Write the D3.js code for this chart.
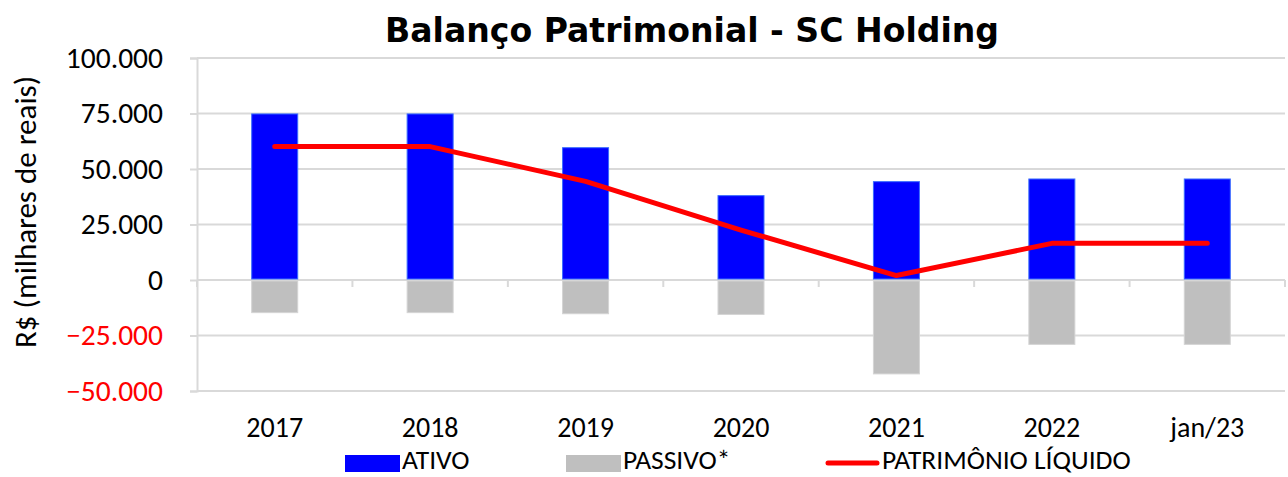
<!DOCTYPE html>
<html><head><meta charset="utf-8">
<script src="https://cdn.jsdelivr.net/npm/d3@7"></script>
<style>body{margin:0;background:#fff}svg{display:block}</style>
</head><body>
<svg id="c" width="1288" height="477"></svg>
<script>
const categories = ["2017","2018","2019","2020","2021","2022","jan/23"];
const ativo   = [74800, 74800, 59600, 38000, 44300, 45500, 45500];
const passivo = [-14700, -14700, -15200, -15500, -42300, -29000, -29000];
const patrimonio = [60100, 60100, 44400, 22500, 2000, 16500, 16500];
const yTicks = [-50000, -25000, 0, 25000, 50000, 75000, 100000];

const svg = d3.select("#c");
const L = 197, R = 1285, T = 58, B = 391;
const x = d3.scaleBand().domain(categories).range([L, R]).paddingInner(0.704).paddingOuter(0.352);
const xc = d3.scalePoint().domain(categories).range([L, R]).padding(0.5);
const y = d3.scaleLinear().domain([-50000, 100000]).range([B, T]);
const fmt = v => d3.format(",")(v).replace(/,/g, ".");
const txtFont = "Carlito, Lato, 'Open Sans', sans-serif";

// gridlines
svg.append("g").selectAll("line").data(yTicks).join("line")
  .attr("x1", L).attr("x2", R).attr("y1", d => y(d)).attr("y2", d => y(d))
  .attr("stroke", "#d9d9d9").attr("stroke-width", 2);

// y axis
const yAxis = svg.append("g").attr("transform", `translate(${L},0)`)
  .call(d3.axisLeft(y).tickValues(yTicks).tickFormat(fmt).tickSize(7).tickPadding(27));
yAxis.select(".domain").attr("stroke", "#d9d9d9").attr("stroke-width", 2);
yAxis.selectAll(".tick line").attr("stroke", "#d9d9d9").attr("stroke-width", 2);
yAxis.selectAll(".tick text").attr("font-family", txtFont).attr("font-size", 29.5)
  .attr("fill", d => d < 0 ? "#ff0000" : "#000");

// x axis at zero
const xAxis = svg.append("g").attr("transform", `translate(0,${y(0)})`)
  .call(d3.axisBottom(x).tickSize(0).tickPadding(0));
xAxis.select(".domain").remove();
xAxis.selectAll(".tick text").attr("font-family", txtFont).attr("font-size", 28)
  .attr("fill", "#000").attr("dy", 0).attr("y", 157);
// category boundary ticks
const bounds = d3.range(categories.length + 1).map(i => L + i * (R - L) / categories.length);
svg.append("g").selectAll("line").data(bounds).join("line")
  .attr("x1", d => d).attr("x2", d => d).attr("y1", y(0)).attr("y2", y(0) + 7)
  .attr("stroke", "#d9d9d9").attr("stroke-width", 2);
svg.append("line").attr("x1", L).attr("x2", R).attr("y1", y(0)).attr("y2", y(0))
  .attr("stroke", "#d9d9d9").attr("stroke-width", 2);

// bars
svg.append("g").selectAll("rect").data(ativo).join("rect")
  .attr("x", (d, i) => x(categories[i])).attr("width", x.bandwidth())
  .attr("y", d => y(d)).attr("height", d => y(0) - y(d) - 1)
  .attr("fill", "#0000ff").attr("stroke", "#3a6cff").attr("stroke-width", 1);
svg.append("g").selectAll("rect").data(passivo).join("rect")
  .attr("x", (d, i) => x(categories[i])).attr("width", x.bandwidth())
  .attr("y", y(0) + 1).attr("height", d => y(d) - y(0) - 1)
  .attr("fill", "#bfbfbf").attr("stroke", "#d4d4d4").attr("stroke-width", 1);

// line
svg.append("path").datum(patrimonio)
  .attr("d", d3.line().x((d, i) => xc(categories[i])).y(d => y(d)))
  .attr("fill", "none").attr("stroke", "#ff0000").attr("stroke-width", 5)
  .attr("stroke-linecap", "round").attr("stroke-linejoin", "round");

// title
svg.append("text").attr("x", 692).attr("y", 42).attr("text-anchor", "middle")
  .attr("font-family", "'DejaVu Sans', sans-serif").attr("font-weight", "bold")
  .attr("font-size", 33).attr("textLength", 614).attr("lengthAdjust", "spacingAndGlyphs")
  .text("Balanço Patrimonial - SC Holding");

// y label
svg.append("text").attr("transform", "translate(36,212) rotate(-90)").attr("text-anchor", "middle")
  .attr("font-family", txtFont).attr("font-size", 31).text("R$ (milhares de reais)");

// legend
const leg = [
  {name: "ATIVO", type: "rect", fill: "#0000ff", x: 345},
  {name: "PASSIVO*", type: "rect", fill: "#bfbfbf", x: 566},
  {name: "PATRIMÔNIO LÍQUIDO", type: "line", fill: "#ff0000", x: 825}
];
const lg = svg.append("g");
leg.forEach(l => {
  if (l.type === "rect") {
    lg.append("rect").attr("x", l.x).attr("y", 455).attr("width", 55).attr("height", 17).attr("fill", l.fill);
  } else {
    lg.append("line").attr("x1", l.x + 3).attr("x2", l.x + 52).attr("y1", 463).attr("y2", 463)
      .attr("stroke", l.fill).attr("stroke-width", 5).attr("stroke-linecap", "round");
  }
  lg.append("text").attr("x", l.x + 57).attr("y", 469).attr("font-family", txtFont)
    .attr("font-size", 27.5).text(l.name);
});
</script>
</body></html>
